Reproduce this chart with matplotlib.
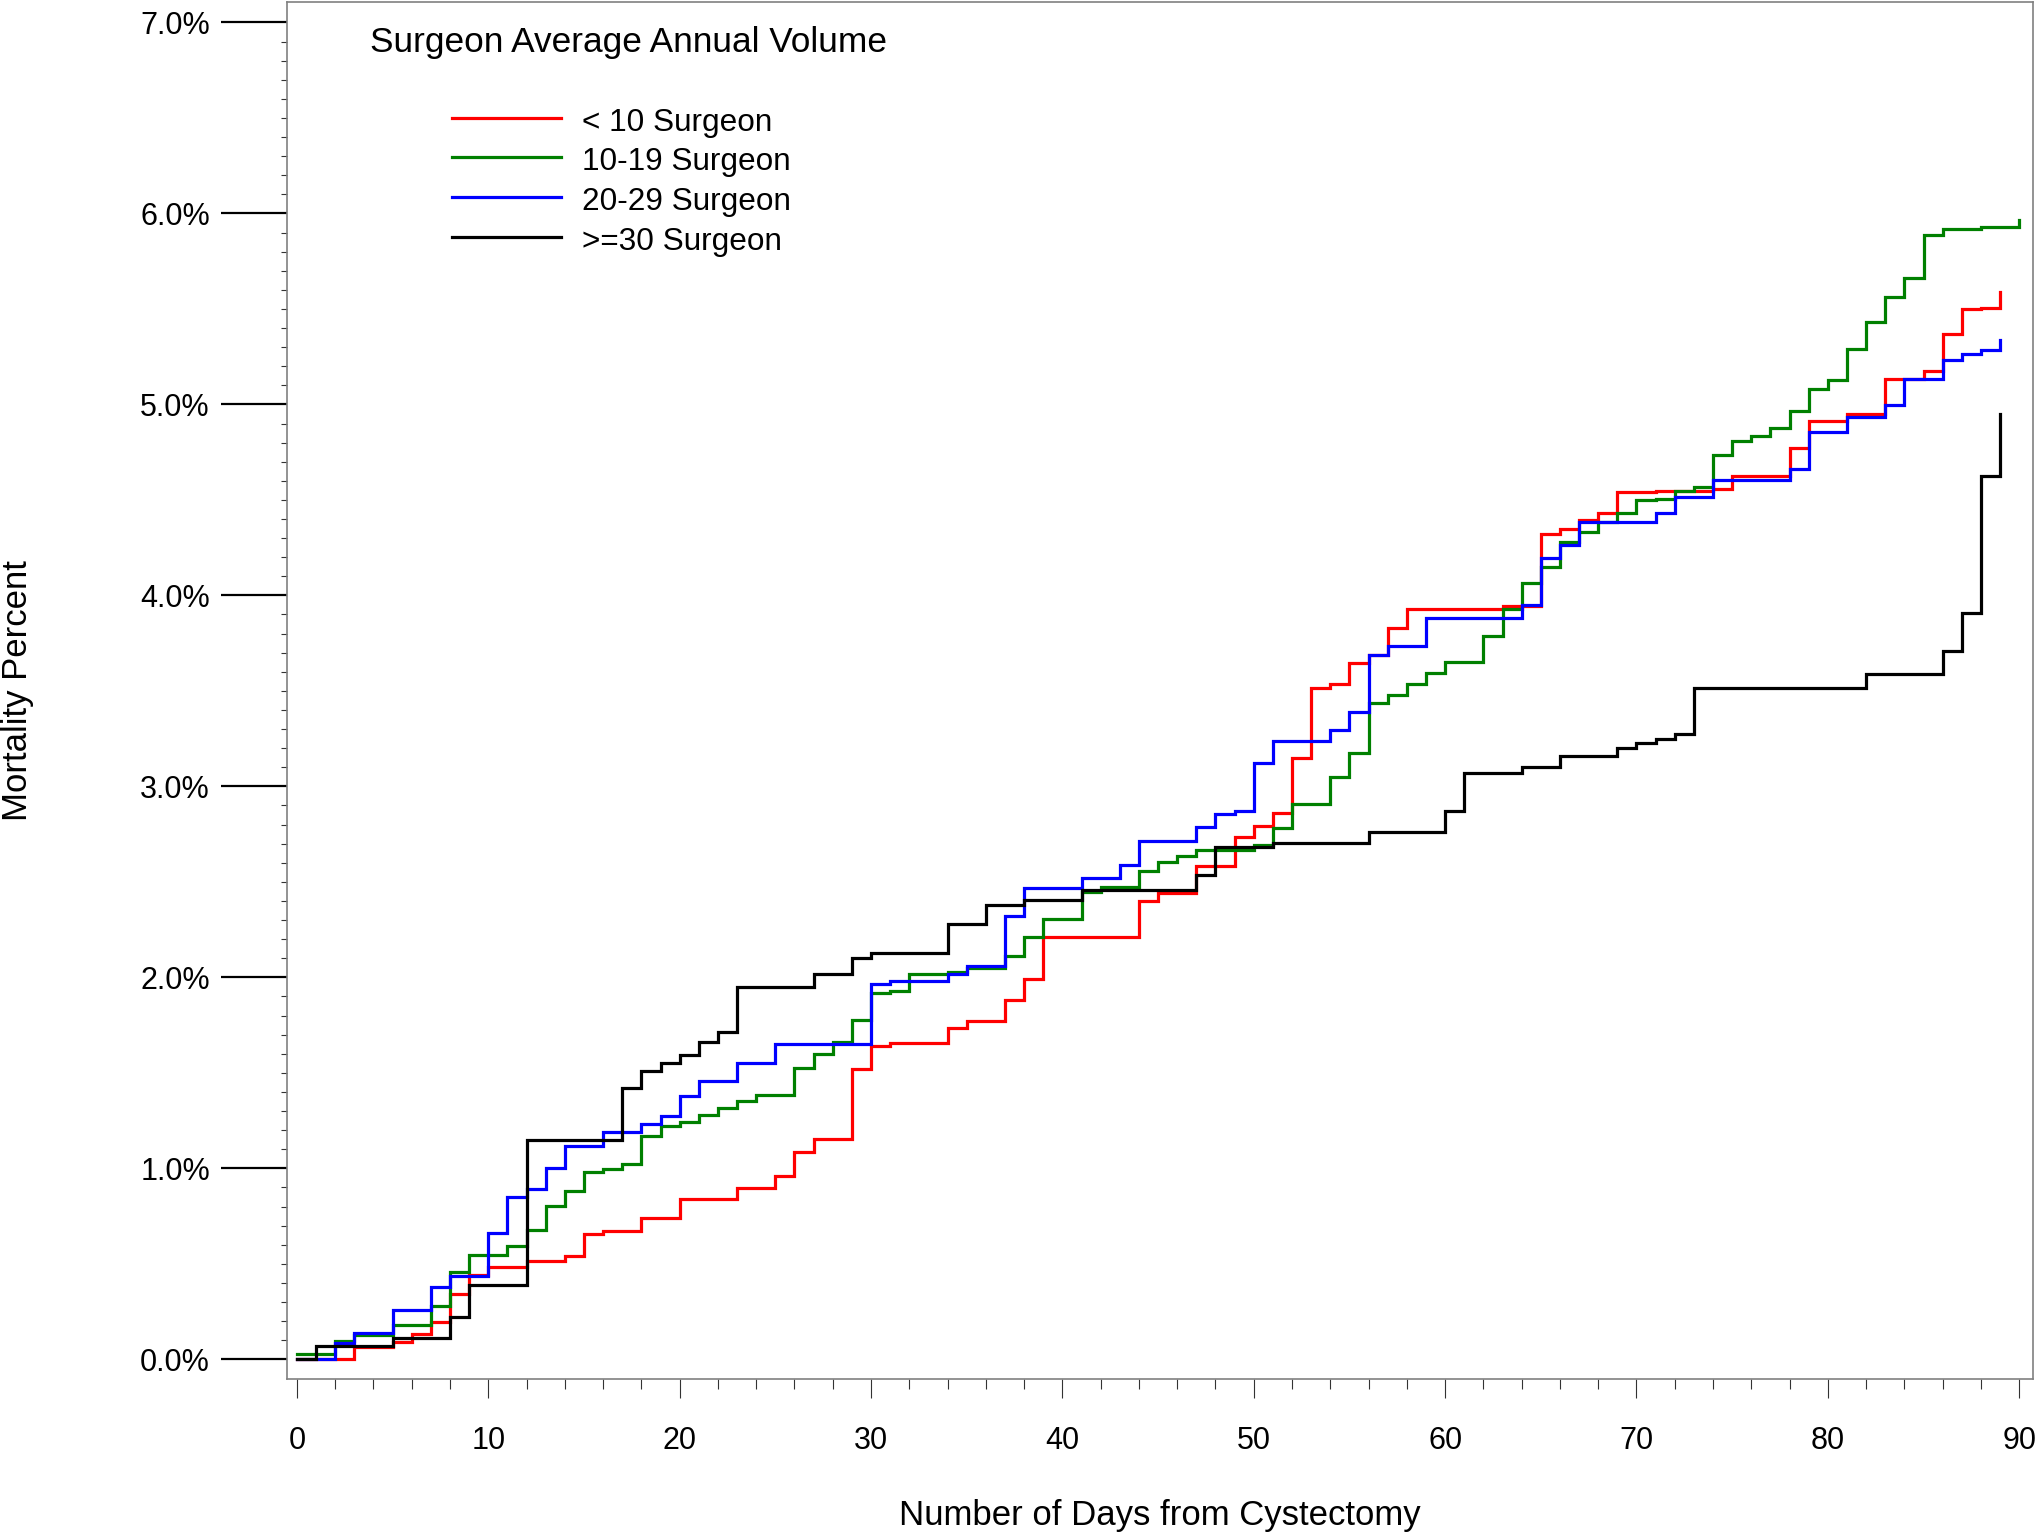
import numpy as np
import matplotlib
matplotlib.use('Agg')
import matplotlib.pyplot as plt
from matplotlib.ticker import FixedLocator, FuncFormatter
from matplotlib.lines import Line2D

plt.rcParams['font.family'] = ['Liberation Sans', 'DejaVu Sans']

# ---- data (days from cystectomy, cumulative mortality %) ----
lt10_days = [0, 3, 5, 6, 7, 8, 9, 10, 12, 14, 15, 16, 18, 20, 23, 25, 26, 27, 29, 30,
             31, 34, 35, 37, 38, 39, 44, 45, 47, 49, 50, 51, 52, 53, 54, 55, 56, 57, 58,
             63, 65, 66, 67, 68, 69, 71, 74, 75, 78, 79, 81, 83, 85, 86, 87, 88, 89]
lt10_pct = [0.0, 0.063, 0.089, 0.132, 0.195, 0.343, 0.439, 0.483, 0.517, 0.542, 0.657,
            0.673, 0.740, 0.840, 0.896, 0.961, 1.088, 1.156, 1.521, 1.643,
            1.654, 1.733, 1.773, 1.881, 1.991, 2.209, 2.400, 2.440, 2.581, 2.736, 2.792,
            2.863, 3.147, 3.517, 3.536, 3.644, 3.688, 3.827, 3.928,
            3.946, 4.319, 4.347, 4.395, 4.431, 4.543, 4.548, 4.555, 4.625, 4.772, 4.911,
            4.951, 5.132, 5.176, 5.370, 5.498, 5.505, 5.590]

v10_19_days = [0, 2, 3, 5, 7, 8, 9, 11, 12, 13, 14, 15, 16, 17, 18, 19, 20, 21, 22, 23,
               24, 26, 27, 28, 29, 30, 31, 32, 34, 35, 37, 38, 39, 41, 42, 44, 45, 46, 47,
               50, 51, 52, 54, 55, 56, 57, 58, 59, 60, 62, 63, 64, 65, 66, 67, 68, 69, 70,
               71, 72, 73, 74, 75, 76, 77, 78, 79, 80, 81, 82, 83, 84, 85, 86, 88, 90]
v10_19_pct = [0.028, 0.096, 0.128, 0.180, 0.280, 0.455, 0.544, 0.591, 0.678, 0.804, 0.879,
              0.979, 0.997, 1.024, 1.171, 1.220, 1.243, 1.280, 1.315, 1.352,
              1.384, 1.528, 1.598, 1.663, 1.777, 1.920, 1.928, 2.016, 2.030, 2.050, 2.112,
              2.213, 2.305, 2.445, 2.475, 2.558, 2.602, 2.635, 2.667,
              2.695, 2.784, 2.906, 3.051, 3.173, 3.435, 3.478, 3.536, 3.592, 3.653, 3.789,
              3.928, 4.063, 4.150, 4.278, 4.332, 4.382, 4.430, 4.499,
              4.507, 4.545, 4.568, 4.736, 4.808, 4.834, 4.875, 4.968, 5.082, 5.129, 5.289,
              5.430, 5.564, 5.660, 5.887, 5.917, 5.931, 5.967]

v20_29_days = [0, 2, 3, 5, 7, 8, 10, 11, 12, 13, 14, 16, 18, 19, 20, 21, 23, 25, 30, 31,
               34, 35, 37, 38, 41, 43, 44, 47, 48, 49, 50, 51, 54, 55, 56, 57, 59, 64, 65,
               66, 67, 71, 72, 74, 78, 79, 81, 83, 84, 86, 87, 88, 89]
v20_29_pct = [0.0, 0.084, 0.140, 0.256, 0.378, 0.437, 0.661, 0.850, 0.893, 1.002, 1.115,
              1.189, 1.233, 1.276, 1.381, 1.455, 1.550, 1.650, 1.963, 1.981,
              2.017, 2.059, 2.323, 2.469, 2.518, 2.588, 2.714, 2.789, 2.857, 2.870, 3.120,
              3.237, 3.295, 3.387, 3.688, 3.736, 3.880, 3.949, 4.196,
              4.262, 4.386, 4.431, 4.516, 4.603, 4.663, 4.854, 4.935, 4.997, 5.134, 5.233,
              5.263, 5.287, 5.336]

ge30_days = [0, 1, 5, 8, 9, 12, 17, 18, 19, 20, 21, 22, 23, 27, 29, 30, 34, 36, 38, 41,
             47, 48, 51, 56, 60, 61, 64, 66, 69, 70, 71, 72, 73, 82, 86, 87, 88, 89]
ge30_pct = [0.0, 0.071, 0.113, 0.221, 0.388, 1.150, 1.423, 1.509, 1.549, 1.593, 1.662,
            1.713, 1.951, 2.017, 2.099, 2.129, 2.277, 2.379, 2.405, 2.457,
            2.534, 2.683, 2.705, 2.763, 2.871, 3.072, 3.103, 3.159, 3.199, 3.225, 3.248,
            3.274, 3.516, 3.586, 3.710, 3.910, 4.626, 4.951]

series_labels = ['< 10 Surgeon', '10-19 Surgeon', '20-29 Surgeon', '>=30 Surgeon']
series_colors = ['#FF0000', '#008000', '#0000FF', '#000000']
legend_title = 'Surgeon Average Annual Volume'
y_ticks = [0, 1, 2, 3, 4, 5, 6, 7]
x_ticks = [0, 10, 20, 30, 40, 50, 60, 70, 80, 90]

series = [(lt10_days, lt10_pct), (v10_19_days, v10_19_pct),
          (v20_29_days, v20_29_pct), (ge30_days, ge30_pct)]

# ---- figure ----
W, H = 2040, 1535
fig = plt.figure(figsize=(W / 100, H / 100), dpi=100)
ax = fig.add_axes([287 / W, 1 - 1379 / H, (2033 - 287) / W, (1379 - 2) / H])

for (d, p), c in zip(series, series_colors):
    ax.step(d, p, where='post', color=c, lw=2.3, solid_joinstyle='miter')

ax.set_xlim(-0.52, 90.72)
ax.set_ylim(-0.103, 7.107)

ax.set_yticks(y_ticks)
ax.yaxis.set_minor_locator(FixedLocator(np.round(np.arange(0, 7.001, 0.1), 2)))
ax.yaxis.set_major_formatter(FuncFormatter(lambda v, p: f'{v:.1f}%'))
ax.set_xticks(x_ticks)
ax.xaxis.set_minor_locator(FixedLocator(np.arange(0, 91, 2)))

ax.tick_params(axis='y', which='major', direction='out', length=47.5, width=1.6,
               color='black', pad=8, labelsize=22)
ax.tick_params(axis='y', which='minor', direction='out', length=4.3, width=0.8,
               color='#333333')
ax.tick_params(axis='x', which='major', direction='out', length=13.7, width=0.8,
               color='#333333', pad=20, labelsize=22)
ax.tick_params(axis='x', which='minor', direction='out', length=7.2, width=0.8,
               color='#333333')

for s in ax.spines.values():
    s.set_color('#808080')
    s.set_linewidth(1.2)

ax.set_xlabel('Number of Days from Cystectomy', fontsize=25)
ax.xaxis.set_label_coords(0.5, (1379 - 1516) / 1377)
ax.xaxis.label.set_va('center')
ax.set_ylabel('Mortality Percent', fontsize=25)
ax.yaxis.set_label_coords((18 - 287) / 1746, 0.5)
ax.yaxis.label.set_va('center')

# ---- legend (drawn in figure pixel coordinates) ----
fig.text(370 / W, 1 - 52 / H, legend_title, fontsize=25.4, va='baseline', ha='left')
leg_y = [117.7, 157.3, 197.3, 237.3]
for ly, lab, c in zip(leg_y, series_labels, series_colors):
    fig.add_artist(Line2D([452 / W, 561 / W], [1 - ly / H, 1 - ly / H],
                          transform=fig.transFigure, color=c, lw=2.3))
    fig.text(582 / W, 1 - (ly + 13) / H, lab, fontsize=22.7, va='baseline', ha='left')

fig.savefig('out.png', dpi=100)
